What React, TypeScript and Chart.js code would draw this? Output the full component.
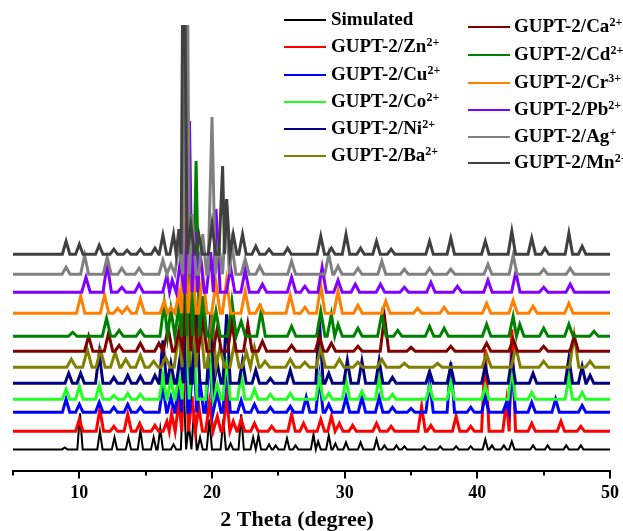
import React, { useEffect, useRef } from "react";
import { Chart, registerables } from "chart.js";

Chart.register(...registerables);

// ---- data (2θ in degrees, intensity in arbitrary stacked units) ----
const xTickLabels = [10, 20, 30, 40, 50];
const xMinorTicks = [5, 15, 25, 35, 45];

const seriesNames = [
  "Simulated", "GUPT-2/Zn", "GUPT-2/Cu", "GUPT-2/Co", "GUPT-2/Ni", "GUPT-2/Ba",
  "GUPT-2/Ca", "GUPT-2/Cd", "GUPT-2/Cr", "GUPT-2/Pb", "GUPT-2/Ag", "GUPT-2/Mn",
];
const seriesCharges = ["", "2+", "2+", "2+", "2+", "2+", "2+", "2+", "3+", "2+", "+", "2+"];
const seriesColors = [
  "#000000", "#ff0000", "#0000ff", "#22ff22", "#000080", "#808000",
  "#800000", "#008000", "#ff8000", "#8000ff", "#808080", "#404040",
];
// stacking offsets (baseline of each pattern)
const seriesBaselines = [22, 40, 59, 72, 88, 104, 120, 135, 158, 179, 197, 217];
const peakHalfWidths = [0.2, 0.28, 0.28, 0.28, 0.28, 0.35, 0.32, 0.32, 0.32, 0.32, 0.3, 0.28];

// peaks: [2θ, height above baseline]
const simulatedPeaks = [
  [8.9, 2], [10.05, 36], [11.55, 18], [12.65, 12], [13.7, 12], [14.6, 19], [15.6, 12], [16.1, 21],
  [17.1, 5], [17.85, 69], [18.25, 25], [18.65, 40], [19.1, 12], [19.8, 30], [20.85, 30], [21.4, 6],
  [22.2, 35], [23.1, 12], [23.5, 14], [24.3, 5], [24.8, 4], [25.65, 11], [26.3, 4], [27.65, 15],
  [28.0, 8], [28.8, 14], [29.3, 6], [30.1, 7], [31.2, 7], [32.4, 10], [33.0, 4], [33.9, 4],
  [34.5, 3], [36.0, 3], [37.2, 3], [38.4, 3], [39.5, 3], [40.6, 10], [41.1, 4], [42.0, 4],
  [42.6, 8], [44.2, 4], [45.3, 4], [46.7, 4], [47.8, 4],
];
const znPeaks = [
  [10.0, 12], [11.55, 22], [12.6, 5], [13.65, 17], [14.55, 8], [15.7, 6], [16.6, 10], [16.95, 18],
  [17.5, 30], [17.95, 100], [18.5, 35], [19.0, 25], [19.8, 29], [20.4, 15], [21.1, 34], [21.6, 10],
  [22.2, 12], [23.2, 8], [24.5, 5], [26.0, 17], [26.9, 8], [28.2, 12], [29.0, 15], [29.6, 8],
  [30.6, 6], [32.4, 8], [33.5, 5], [35.8, 25], [36.5, 6], [38.4, 15], [39.5, 5], [40.6, 82],
  [42.2, 30], [42.6, 102], [44.1, 8], [46.3, 10], [47.8, 5],
];
const cuPeaks = [
  [9.0, 13], [10.0, 8], [11.5, 10], [12.6, 5], [13.65, 8], [14.6, 5], [16.3, 26], [16.9, 15],
  [17.5, 30], [17.9, 112], [18.6, 70], [19.1, 30], [19.8, 60], [20.4, 20], [21.1, 50], [22.2, 12],
  [23.2, 8], [24.4, 5], [25.9, 6], [27.1, 15], [28.1, 35], [28.8, 8], [30.1, 15], [31.3, 15],
  [32.6, 15], [33.6, 5], [35.0, 4], [36.4, 30], [38.0, 50], [39.5, 5], [40.6, 15], [42.2, 10],
  [42.6, 46], [44.1, 10], [45.9, 13], [47.9, 7],
];
const coPeaks = [
  [9.0, 10], [10.0, 13], [11.5, 14], [12.6, 4], [13.65, 6], [14.6, 5], [16.3, 23], [16.9, 20],
  [17.5, 25], [18.0, 110], [18.6, 60], [19.8, 55], [20.4, 15], [21.1, 43], [22.2, 25], [23.2, 10],
  [24.4, 5], [25.9, 6], [28.1, 22], [28.8, 6], [30.1, 20], [31.3, 8], [32.6, 22], [33.6, 5],
  [36.4, 13], [38.0, 17], [40.6, 13], [42.6, 33], [44.1, 7], [46.9, 22], [47.9, 7],
];
const niPeaks = [
  [9.2, 10], [10.1, 10], [11.5, 30], [12.6, 6], [13.65, 8], [14.6, 7], [15.7, 8], [16.3, 43],
  [16.9, 20], [17.6, 27], [18.1, 123], [18.8, 80], [19.9, 70], [20.4, 20], [21.1, 69], [22.3, 22],
  [23.3, 13], [24.4, 5], [25.9, 13], [28.1, 62], [28.8, 10], [30.2, 23], [31.3, 22], [32.6, 23],
  [33.6, 6], [36.4, 12], [38.0, 17], [40.6, 17], [42.6, 25], [44.2, 10], [46.9, 25], [47.9, 17],
  [48.5, 8],
];
const baPeaks = [
  [9.4, 8], [10.6, 18], [11.6, 17], [12.7, 15], [13.5, 8], [14.6, 12], [15.6, 6], [16.5, 10],
  [17.5, 35], [18.0, 118], [18.5, 60], [19.1, 48], [20.0, 55], [20.6, 20], [21.7, 25], [22.6, 15],
  [23.2, 20], [24.0, 6], [25.9, 8], [27.0, 5], [28.2, 20], [29.6, 8], [31.0, 5], [32.8, 8],
  [34.5, 4], [37.0, 4], [40.7, 13], [42.9, 20], [45.0, 6], [47.3, 32], [48.5, 6],
];
const caPeaks = [
  [10.7, 15], [12.2, 18], [13.0, 6], [14.6, 8], [16.0, 8], [16.7, 23], [17.5, 20], [18.2, 113],
  [18.6, 50], [19.3, 33], [20.4, 23], [21.5, 29], [22.7, 27], [23.8, 10], [26.0, 6], [28.1, 15],
  [29.0, 8], [31.0, 5], [33.0, 35], [35.0, 4], [38.0, 5], [40.7, 8], [42.7, 12], [45.0, 5],
  [47.3, 15],
];
const cdPeaks = [
  [9.5, 4], [12.05, 18], [13.0, 6], [14.6, 6], [16.4, 33], [16.9, 27], [17.5, 30], [17.9, 202],
  [18.3, 70], [18.8, 175], [19.3, 40], [20.3, 25], [21.5, 35], [22.2, 15], [23.7, 25], [26.0, 10],
  [28.2, 25], [29.0, 22], [29.5, 12], [31.0, 8], [32.8, 22], [34.0, 6], [36.4, 10], [37.5, 8],
  [40.7, 12], [42.7, 20], [43.2, 12], [45.0, 8], [46.9, 12], [48.8, 5],
];
const crPeaks = [
  [10.1, 17], [11.9, 18], [12.9, 5], [13.6, 6], [14.6, 14], [16.4, 12], [16.9, 6], [17.5, 20],
  [17.9, 124], [18.5, 50], [19.3, 40], [20.3, 30], [21.1, 33], [22.5, 22], [23.6, 8], [25.9, 18],
  [27.0, 6], [28.2, 28], [29.5, 22], [31.0, 8], [33.1, 12], [35.5, 5], [37.5, 6], [40.7, 10],
  [42.7, 13], [44.2, 7], [46.9, 10],
];
const pbPeaks = [
  [10.5, 15], [12.1, 28], [13.2, 5], [14.5, 8], [16.6, 17], [17.0, 12], [17.6, 30], [18.3, 171],
  [18.7, 60], [19.1, 40], [19.9, 40], [20.3, 83], [21.4, 25], [22.5, 22], [23.8, 8], [26.0, 15],
  [27.0, 6], [28.3, 25], [29.5, 12], [30.8, 8], [32.7, 8], [34.5, 5], [36.5, 10], [38.5, 6],
  [40.8, 12], [42.9, 20], [45.0, 5], [47.0, 8],
];
const agPeaks = [
  [9.0, 7], [10.4, 19], [12.1, 17], [13.2, 6], [14.5, 6], [16.3, 14], [16.9, 10], [17.5, 30],
  [18.1, 400], [18.5, 60], [19.3, 40], [20.0, 157], [20.5, 30], [21.1, 75], [21.5, 30], [22.5, 15],
  [23.6, 8], [26.0, 13], [28.8, 20], [29.5, 8], [31.0, 6], [32.8, 13], [34.5, 5], [36.4, 6],
  [38.0, 5], [40.8, 10], [42.7, 19], [45.0, 5], [47.0, 6],
];
const mnPeaks = [
  [9.0, 13], [10.0, 10], [11.5, 9], [12.6, 5], [13.6, 4], [14.6, 5], [15.7, 6], [16.3, 19],
  [17.1, 20], [17.5, 25], [17.85, 400], [18.4, 30], [19.0, 20], [20.0, 30], [20.8, 88], [21.1, 55],
  [21.6, 20], [22.3, 20], [23.3, 8], [24.3, 5], [25.7, 6], [28.2, 18], [29.0, 6], [30.1, 20],
  [31.2, 6], [32.4, 13], [33.5, 5], [36.4, 13], [38.0, 16], [40.6, 13], [42.6, 23], [44.1, 16],
  [45.1, 6], [46.9, 21], [47.9, 8],
];
const seriesPeaks = [
  simulatedPeaks, znPeaks, cuPeaks, coPeaks, niPeaks, baPeaks,
  caPeaks, cdPeaks, crPeaks, pbPeaks, agPeaks, mnPeaks,
];

const X_MIN = 5;
const X_MAX = 50;
const Y_MAX = 446;

function buildPoints(peaks: number[][], base: number, w: number) {
  const pts: { x: number; y: number }[] = [{ x: X_MIN, y: base }];
  peaks.forEach(([p, h], i) => {
    const prev = i > 0 ? peaks[i - 1][0] : -Infinity;
    const next = i < peaks.length - 1 ? peaks[i + 1][0] : Infinity;
    const l = Math.max(p - w, (p + prev) / 2);
    const r = Math.min(p + w, (p + next) / 2);
    pts.push({ x: l, y: base }, { x: p, y: base + h }, { x: r, y: base });
  });
  pts.push({ x: X_MAX, y: base });
  return pts;
}

const FONT = "'Liberation Serif', 'Times New Roman', serif";

const overlayPlugin = {
  id: "overlay",
  afterDraw(chart: any) {
    const { ctx, scales } = chart;
    const xs = scales.x;
    const bottom = chart.chartArea.bottom;
    ctx.save();
    ctx.strokeStyle = "#000";
    ctx.lineWidth = 2;
    xMinorTicks.forEach((v) => {
      const px = Math.round(xs.getPixelForValue(v));
      ctx.beginPath();
      ctx.moveTo(px, bottom);
      ctx.lineTo(px, bottom + 4);
      ctx.stroke();
    });
    ctx.fillStyle = "#000";
    ctx.font = `bold 22px ${FONT}`;
    ctx.textAlign = "center";
    ctx.textBaseline = "alphabetic";
    ctx.fillText("2 Theta (degree)", 297, 526);
    ctx.restore();
  },
};

function LegendEntry({ i, x, y, lineX, lineW }: any) {
  return (
    <>
      <div
        style={{
          position: "absolute",
          left: lineX,
          top: y - 1,
          width: lineW,
          height: 2,
          background: seriesColors[i],
        }}
      />
      <div
        style={{
          position: "absolute",
          left: x,
          top: y - 12,
          font: `bold 19px ${FONT}`,
          lineHeight: "22px",
          whiteSpace: "nowrap",
          color: "#000",
        }}
      >
        {seriesNames[i]}
        {seriesCharges[i] ? (
          <sup style={{ fontSize: 12, verticalAlign: "top", position: "relative", top: -4 }}>
            {seriesCharges[i]}
          </sup>
        ) : null}
      </div>
    </>
  );
}

export default function App() {
  const ref = useRef<HTMLCanvasElement>(null);
  useEffect(() => {
    if (!ref.current) return;
    const datasets = seriesPeaks.map((peaks, i) => ({
      label: seriesNames[i],
      data: buildPoints(peaks, seriesBaselines[i], peakHalfWidths[i]),
      borderColor: seriesColors[i],
      borderWidth: i === 0 ? 2 : 3,
      pointRadius: 0,
      tension: 0,
      fill: false,
      order: 11 - i,
    }));
    const chart = new Chart(ref.current, {
      type: "line",
      data: { datasets },
      options: {
        animation: false,
        responsive: false,
        maintainAspectRatio: false,
        layout: { padding: { left: 13, right: 11, top: 25, bottom: 23 } },
        plugins: { legend: { display: false }, tooltip: { enabled: false }, title: { display: false } },
        scales: {
          x: {
            type: "linear",
            min: X_MIN,
            max: X_MAX,
            afterBuildTicks: (scale: any) => {
              scale.ticks = xTickLabels.map((v) => ({ value: v }));
            },
            grid: { drawOnChartArea: false, drawTicks: true, tickLength: 7, color: "#000", lineWidth: 2 },
            border: { display: true, color: "#000", width: 2 },
            ticks: {
              color: "#000",
              font: { family: FONT, size: 18, weight: "bold" },
              padding: 4,
              maxRotation: 0,
              autoSkip: false,
            },
          },
          y: { type: "linear", display: false, min: 0, max: Y_MAX },
        },
      },
      plugins: [overlayPlugin],
    });
    return () => chart.destroy();
  }, []);

  const col1 = [0, 1, 2, 3, 4, 5];
  const col2 = [6, 7, 8, 9, 10, 11];
  const rows1 = [20, 47, 75, 102, 129, 156];
  const rows2 = [27, 55, 83, 110, 137, 163];

  return (
    <div style={{ position: "absolute", left: 0, top: 0, width: 623, height: 531, background: "#fff" }}>
      <canvas ref={ref} width={623} height={531} style={{ display: "block" }} />
      {col1.map((i, k) => (
        <LegendEntry key={i} i={i} x={331} y={rows1[k]} lineX={284} lineW={42} />
      ))}
      {col2.map((i, k) => (
        <LegendEntry key={i} i={i} x={514} y={rows2[k]} lineX={468} lineW={42} />
      ))}
    </div>
  );
}
